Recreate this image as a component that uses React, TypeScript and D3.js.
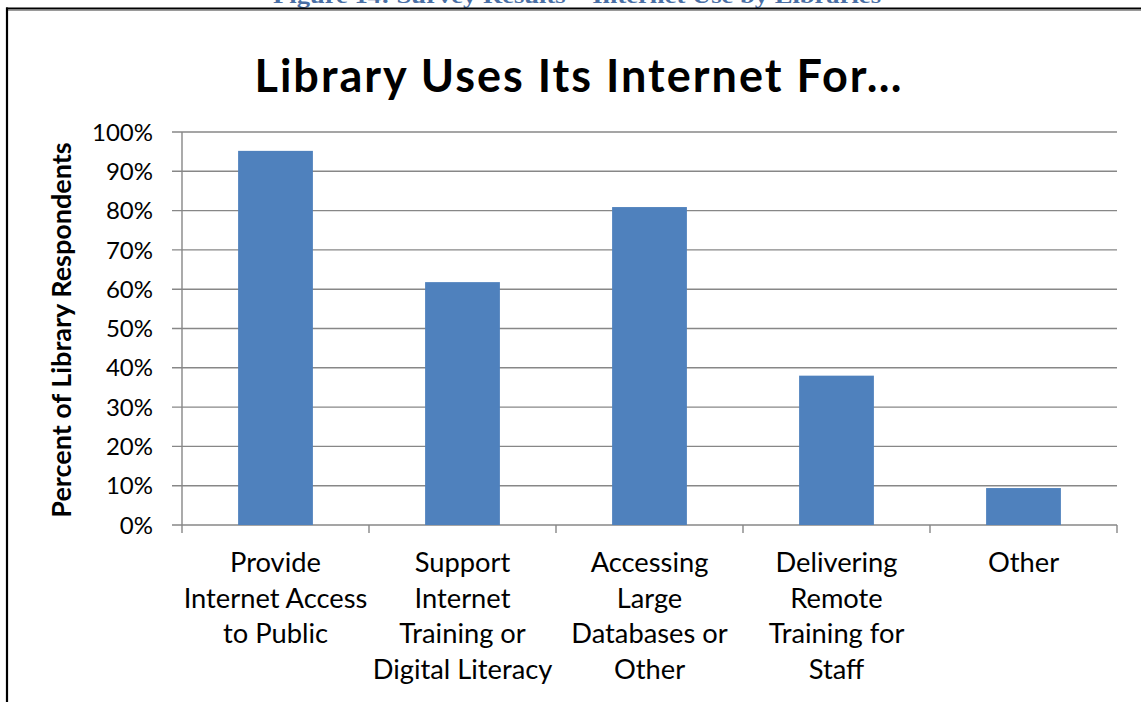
import React from 'react';
import * as d3 from 'd3';

const categories = [
  ['Provide', 'Internet Access', 'to Public'],
  ['Support', 'Internet', 'Training or', 'Digital Literacy'],
  ['Accessing', 'Large', 'Databases or', 'Other'],
  ['Delivering', 'Remote', 'Training for', 'Staff'],
  ['Other'],
];
const values = [95.2, 61.8, 80.9, 38.0, 9.4];
const yTicks = [0, 10, 20, 30, 40, 50, 60, 70, 80, 90, 100];

const W = 1141;
const H = 702;
const FONT = 'Lato, "Open Sans", sans-serif';

const App: React.FC = () => {
  const x = d3.scaleBand<number>()
    .domain(categories.map((_, i) => i))
    .range([182, 1117])
    .padding(0);
  const y = d3.scaleLinear().domain([0, 100]).range([525, 132]);
  const barW = x.bandwidth() * 0.4;
  const grid = '#878787';

  return (
    <svg width={W} height={H} style={{ position: 'absolute', left: 0, top: 0, background: '#fff' }}>
      {/* caption cut off at the top of the page */}
      <text x={577} y={3} textAnchor="middle" fontFamily='"Liberation Serif", serif' fontWeight="bold"
        fontSize={21} fill="#4a6fa5" textLength={608} lengthAdjust="spacingAndGlyphs">
        Figure 14: Survey Results – Internet Use by Libraries
      </text>
      <line x1={6} x2={W} y1={8.5} y2={8.5} stroke="#000" strokeWidth={2.2} />
      <line x1={8} x2={W} y1={10.5} y2={10.5} stroke="#9a9a9a" strokeWidth={1} />
      <line x1={7} x2={7} y1={7.5} y2={H} stroke="#000" strokeWidth={2.2} />

      <text x={578} y={92} textAnchor="middle" fontFamily={FONT} fontWeight="bold" fontSize={45} fill="#000"
        textLength={647} lengthAdjust="spacing">
        Library Uses Its Internet For…
      </text>

      {/* gridlines + y ticks */}
      {yTicks.map(t => (
        <g key={t}>
          <line x1={172} x2={1117} y1={y(t)} y2={y(t)} stroke={grid} strokeWidth={1.4} />
          <text x={153} y={y(t)} dy="0.36em" textAnchor="end" fontFamily={FONT} fontSize={24} fill="#000">
            {t}%
          </text>
        </g>
      ))}

      {/* bars */}
      {values.map((v, i) => (
        <rect key={i} x={(x(i) as number) + (x.bandwidth() - barW) / 2} y={y(v)}
          width={barW} height={y(0) - y(v)} fill="#4f81bd" />
      ))}

      {/* axes */}
      <line x1={182} x2={182} y1={y(100)} y2={y(0)} stroke={grid} strokeWidth={1.4} />
      {categories.map((_, i) => (
        <line key={i} x1={x(i) as number} x2={x(i) as number} y1={y(0)} y2={y(0) + 8} stroke={grid} strokeWidth={1.4} />
      ))}
      <line x1={1117} x2={1117} y1={y(0)} y2={y(0) + 8} stroke={grid} strokeWidth={1.4} />

      {/* category labels */}
      {categories.map((lines, i) => (
        <text key={i} textAnchor="middle" fontFamily={FONT} fontSize={27.3} fill="#000">
          {lines.map((l, j) => (
            <tspan key={j} x={(x(i) as number) + x.bandwidth() / 2} y={572 + j * 35.7}>{l}</tspan>
          ))}
        </text>
      ))}

      {/* y axis title */}
      <text transform="translate(71,330) rotate(-90)" textAnchor="middle" fontFamily={FONT}
        fontWeight="bold" fontSize={27} fill="#000">
        Percent of Library Respondents
      </text>
    </svg>
  );
};

export default App;
